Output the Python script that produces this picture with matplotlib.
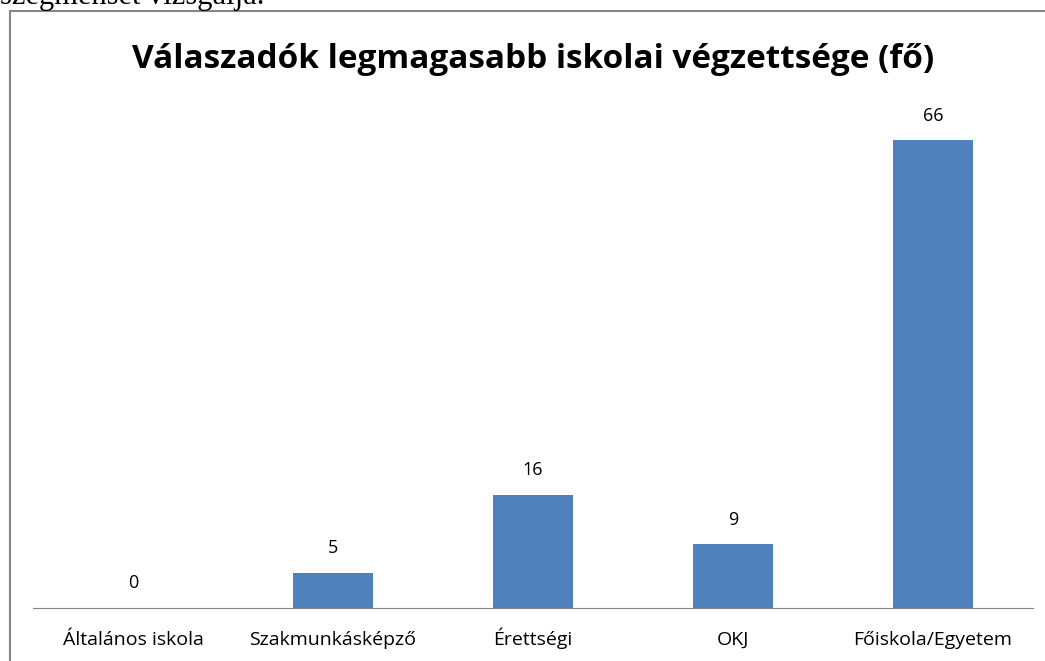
import matplotlib.pyplot as plt
from matplotlib.patches import Rectangle

categories = ['Általános iskola', 'Szakmunkásképző', 'Érettségi', 'OKJ', 'Főiskola/Egyetem']
values = [0, 5, 16, 9, 66]
title = 'Válaszadók legmagasabb iskolai végzettsége (fő)'

W, H = 1045, 661
fig = plt.figure(figsize=(W / 100, H / 100), dpi=100)

# cut-off line of body text above the chart
fig.text(0.0, 1 - 4 / H, 'szegmensét vizsgálja.', fontsize=22, family='Liberation Serif',
         va='baseline', ha='left')

# chart frame
fig.patches.append(Rectangle((10 / W, -0.1), 1.2, 1 - 11 / H + 0.1, transform=fig.transFigure,
                             fill=False, edgecolor='#868686', lw=1.5))

ax = fig.add_axes([33 / W, 53 / H, 1000 / W, 496 / H])
x = range(len(categories))
ax.bar(x, values, width=0.4, color='#4F81BD')
ax.set_xlim(-0.5, len(categories) - 0.5)
ax.set_ylim(0, 70)
for xi, v in zip(x, values):
    ax.text(xi, v + 2.2, str(v), ha='center', va='bottom', fontsize=13, family='Open Sans')

ax.set_xticks(list(x))
ax.set_xticklabels(categories, fontsize=14, family='Open Sans', va='baseline')
ax.tick_params(axis='x', length=0, pad=26.5)
ax.set_yticks([])
for s in ['top', 'right', 'left']:
    ax.spines[s].set_visible(False)
ax.spines['bottom'].set_color('#868686')

fig.text(533 / W, 1 - 60 / H, title, ha='center', va='center', fontsize=24, fontweight='bold',
         family='Open Sans')

fig.savefig('out.png', dpi=100)
